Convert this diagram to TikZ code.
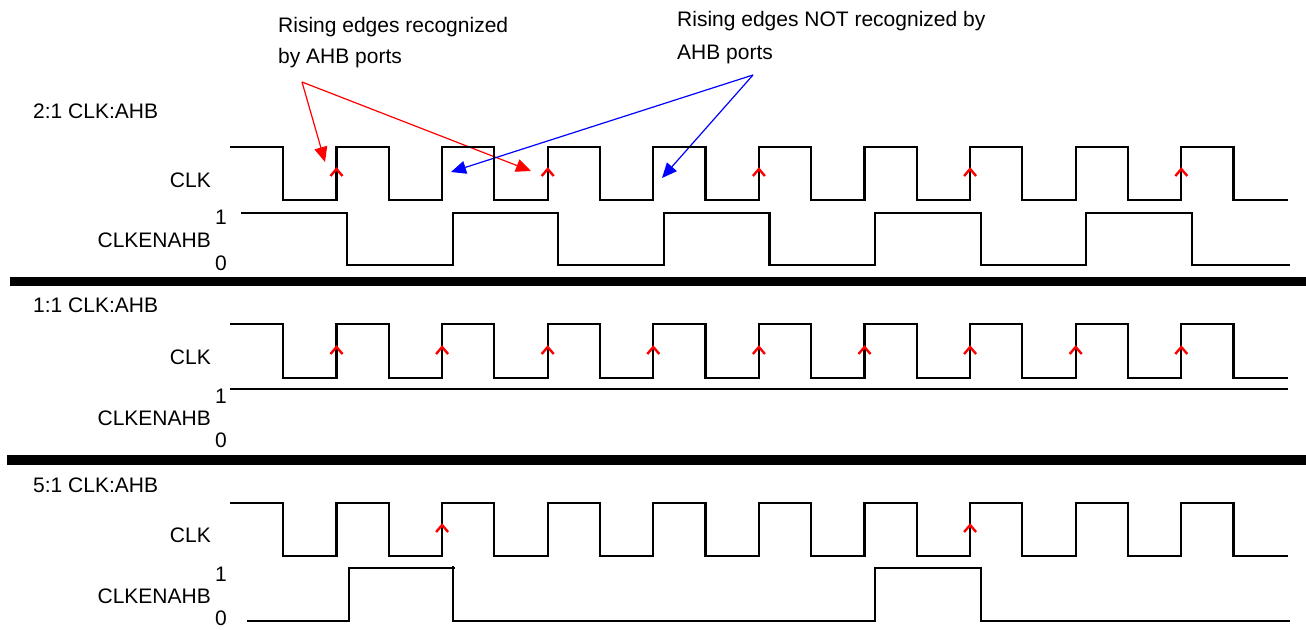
\documentclass[tikz,border=0pt]{standalone}
\usepackage{fontspec}
\setmainfont{Liberation Sans}
\usetikzlibrary{arrows.meta}
\newcommand\myclkwave[2]{%
  \draw[wave] (230,#1) \foreach \k in {0,...,8} {
    -- ({283+105.6*\k},#1) -- ({283+105.6*\k},#2) -- ({336.5+105.6*\k},#2) -- ({336.5+105.6*\k},#1) }
    -- (1233.4,#1) -- (1233.4,#2) -- (1288,#2);}
\begin{document}
\begin{tikzpicture}[x=1pt,y=-1pt,
  lbl/.style={inner sep=0pt, font=\fontsize{21}{25}\selectfont},
  wave/.style={line width=2.2pt, line join=miter, black},
  edgemark/.style={red, line width=2.4pt},
  ann/.style={line width=1.2pt, -{Triangle[length=15pt,width=13pt]}},
  bar/.style={fill=black, draw=none}]
\useasboundingbox (0,0) rectangle (1306,629);

% annotations
\node[lbl, anchor=base west] (t1a) at (278,32) {Rising edges recognized};
\node[lbl, anchor=base west] (t1b) at (278,63) {by AHB ports};
\node[lbl, anchor=base west] (t2a) at (677,27) {Rising edges NOT recognized by};
\node[lbl, anchor=base west] (t2b) at (677,59) {AHB ports};
\coordinate (r0) at (302,82);
\coordinate (r1) at (325,162);
\coordinate (r2) at (531,171);
\coordinate (b0) at (753,75);
\coordinate (b1) at (451,172);
\coordinate (b2) at (662,178);
\draw[ann, red] (r0) -- (r1);
\draw[ann, red] (r0) -- (r2);
\draw[ann, blue] (b0) -- (b1);
\draw[ann, blue] (b0) -- (b2);

% section 1: 2:1
\node[lbl, anchor=base west] (s1) at (33,118) {2:1 CLK:AHB};
\node[lbl, anchor=base east] (s1clk) at (211,187) {CLK};
\node[lbl, anchor=base east] (s1one) at (227,224) {1};
\node[lbl, anchor=base east] (s1en) at (211,247) {CLKENAHB};
\node[lbl, anchor=base east] (s1zero) at (227,270) {0};
\myclkwave{147}{200}
\draw[wave] (241,213) \foreach \k in {0,2,4,6} {
    -- ({347+105.6*\k},213) -- ({347+105.6*\k},265) -- ({347+105.6*(\k+1)},265) -- ({347+105.6*(\k+1)},213) }
    -- (1191.8,213) -- (1191.8,265) -- (1290,265);
\foreach \k in {0,2,4,6,8}
  \draw[edgemark] ({330.5+105.6*\k},176) -- ({336.5+105.6*\k},169) -- ({342.5+105.6*\k},176);
\fill[bar] (10,277) rectangle (1306,286);

% section 2: 1:1
\node[lbl, anchor=base west] (s2) at (33,312) {1:1 CLK:AHB};
\node[lbl, anchor=base east] (s2clk) at (211,364) {CLK};
\node[lbl, anchor=base east] (s2one) at (227,403) {1};
\node[lbl, anchor=base east] (s2en) at (211,425) {CLKENAHB};
\node[lbl, anchor=base east] (s2zero) at (227,447) {0};
\myclkwave{324}{378}
\draw[wave] (230,389) -- (1288,389);
\foreach \k in {0,...,8}
  \draw[edgemark] ({330.5+105.6*\k},354) -- ({336.5+105.6*\k},347) -- ({342.5+105.6*\k},354);
\fill[bar] (7,455) rectangle (1306,465);

% section 3: 5:1
\node[lbl, anchor=base west] (s3) at (33,492) {5:1 CLK:AHB};
\node[lbl, anchor=base east] (s3clk) at (211,542) {CLK};
\node[lbl, anchor=base east] (s3one) at (227,581) {1};
\node[lbl, anchor=base east] (s3en) at (211,603) {CLKENAHB};
\node[lbl, anchor=base east] (s3zero) at (227,625) {0};
\myclkwave{503}{556}
\draw[wave] (247,621) -- (349,621) -- (349,568) -- (455,568);
\draw[wave] (452.6,566) -- (452.6,621) -- (875,621) -- (875,568) -- (980.6,568) -- (980.6,621) -- (1290,621);
\foreach \k in {1,6}
  \draw[edgemark] ({330.5+105.6*\k},532) -- ({336.5+105.6*\k},525) -- ({342.5+105.6*\k},532);
\end{tikzpicture}
\end{document}
